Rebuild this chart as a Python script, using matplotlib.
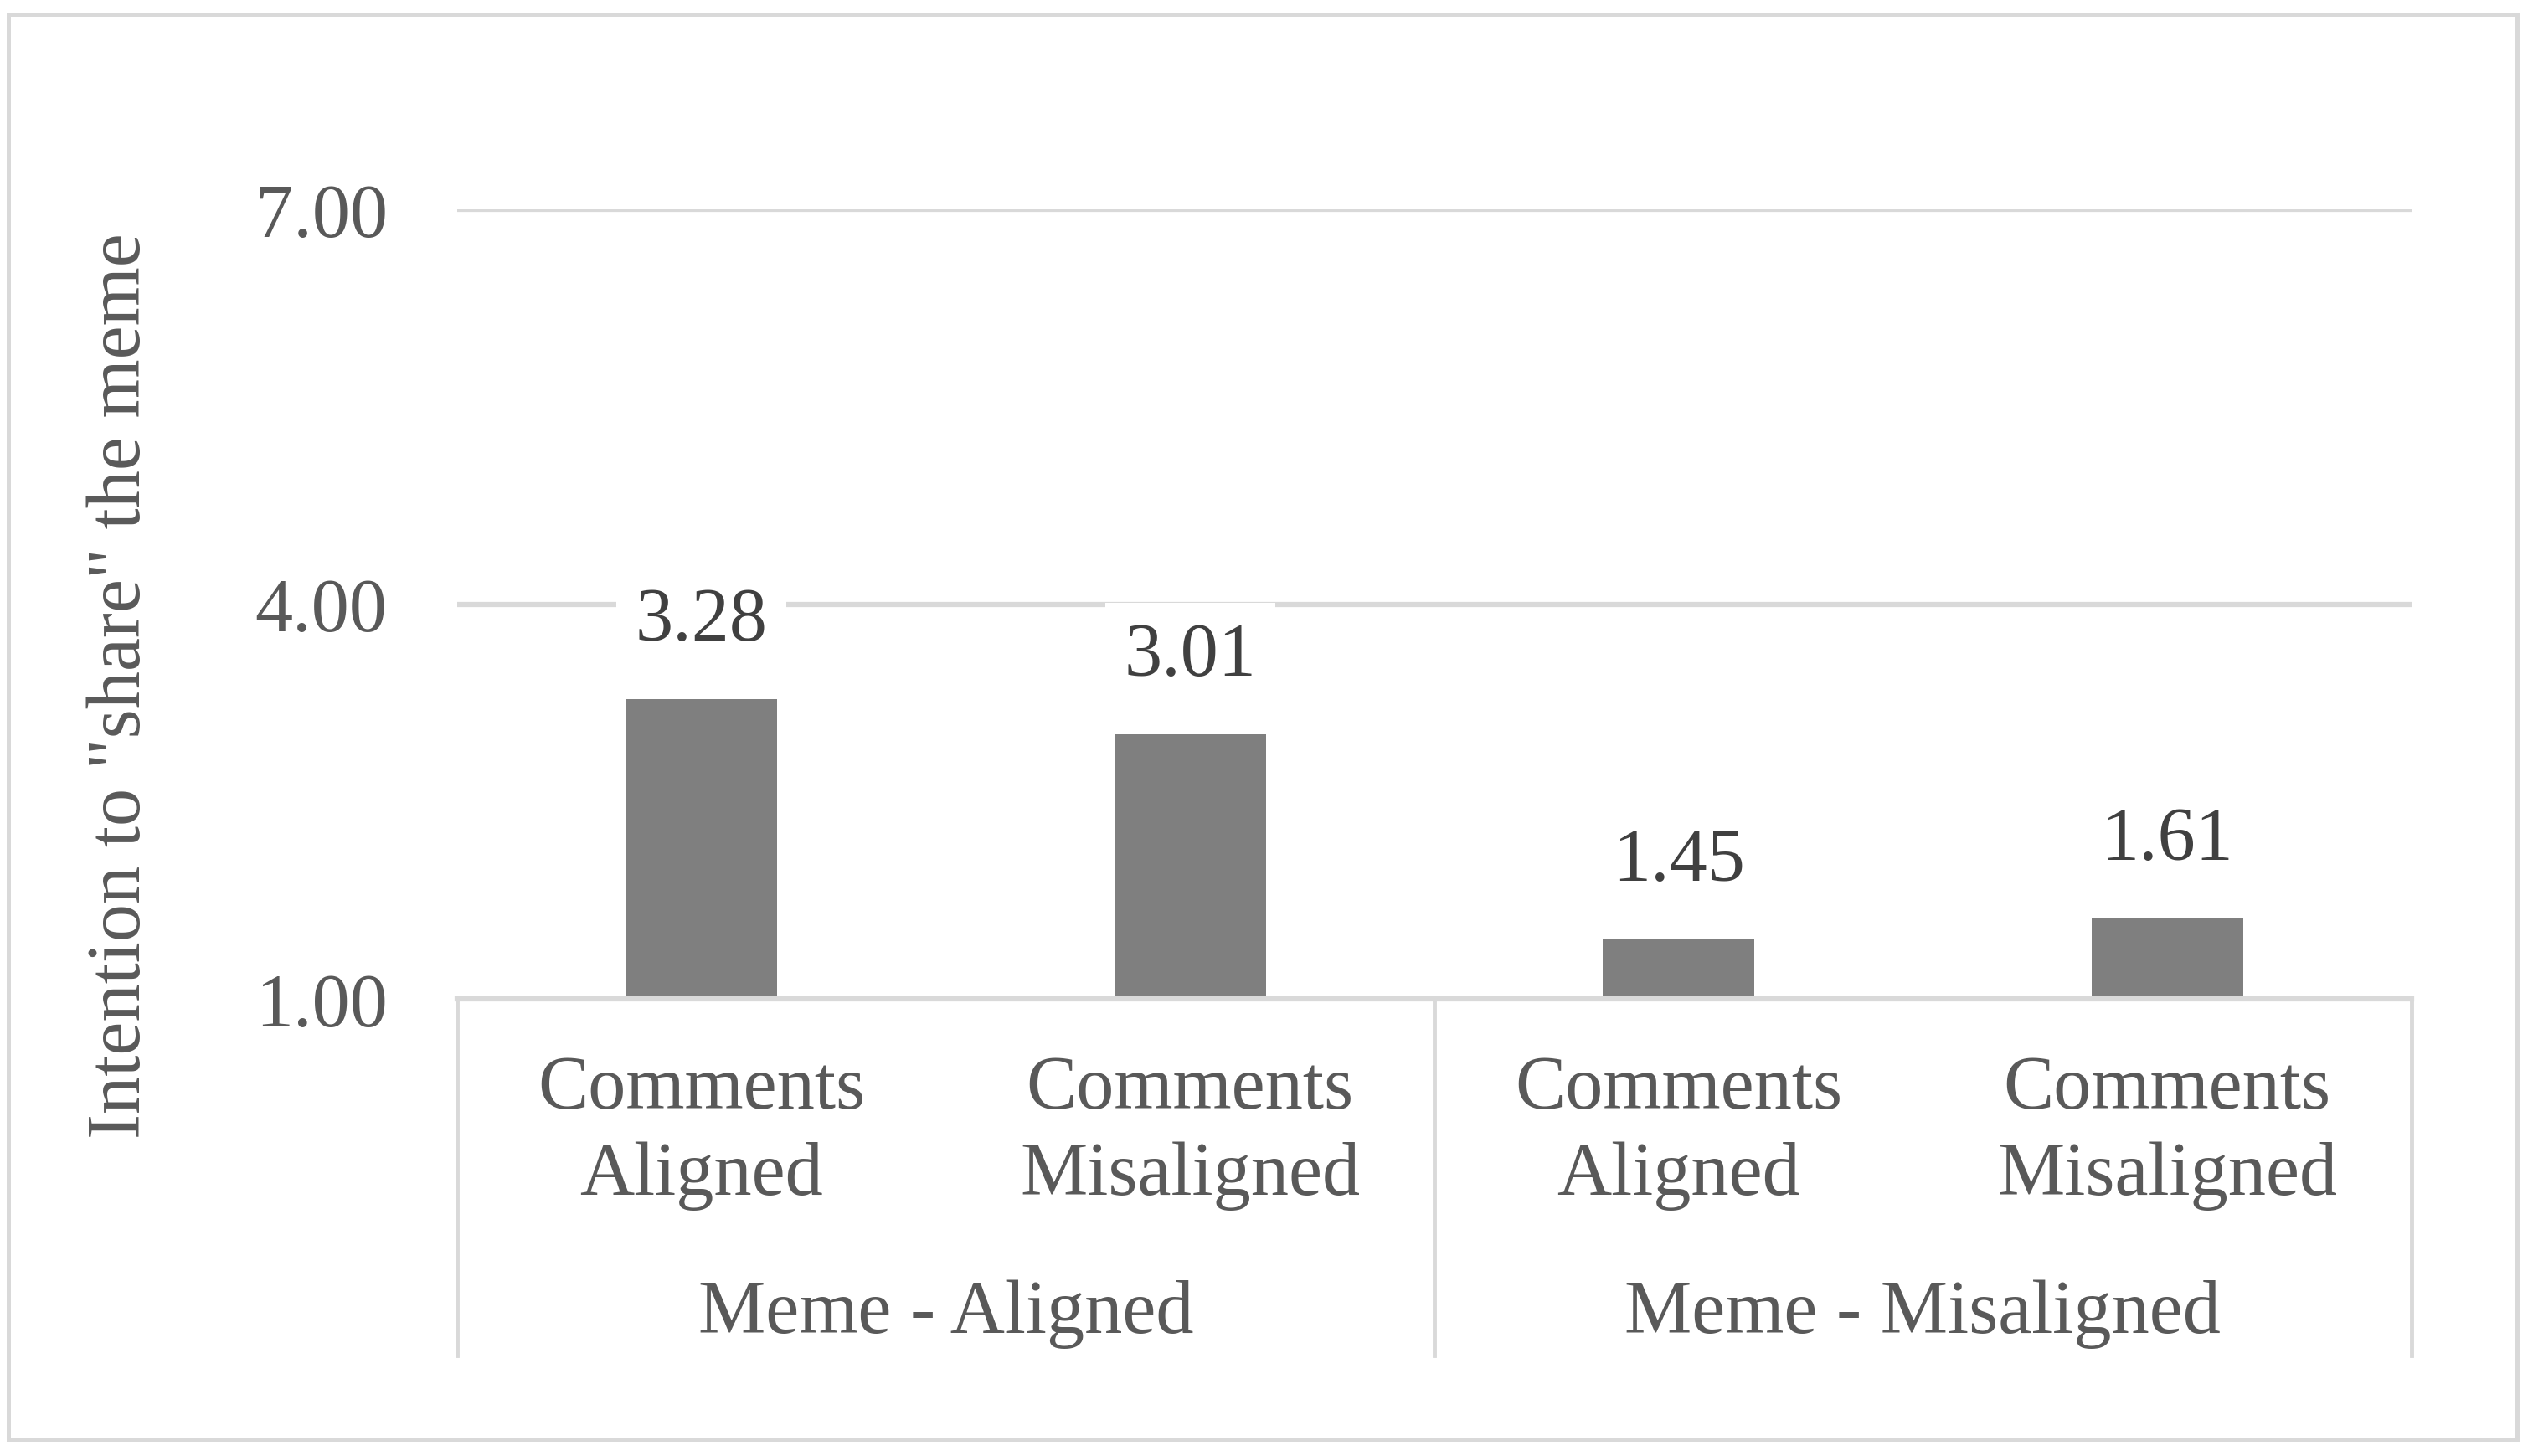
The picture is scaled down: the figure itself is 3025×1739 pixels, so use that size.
import matplotlib.pyplot as plt
from matplotlib.patches import Rectangle

# Data
comments = ['Comments\nAligned', 'Comments\nMisaligned',
            'Comments\nAligned', 'Comments\nMisaligned']
memes = ['Meme - Aligned', 'Meme - Misaligned']
values = [3.28, 3.01, 1.45, 1.61]
yticks = [1, 4, 7]
ytick_labels = ['1.00', '4.00', '7.00']

plt.rcParams.update({
    'font.family': ['Liberation Serif', 'DejaVu Serif'],
    'font.size': 65})

grid_col = '#d9d9d9'
text_col = '#595959'

fig = plt.figure(figsize=(30.25, 17.4), dpi=100)
ax = fig.add_axes([0.1805, 0.3138, 0.7715, 0.5419])

xs = list(range(len(values)))
bars = ax.bar(xs, values, width=0.31, color='#7f7f7f', bottom=0, zorder=2)
ax.set_ylim(1, 7)
ax.set_xlim(-0.5, len(values) - 0.5)

# Gridlines
for y in yticks[1:]:
    ax.axhline(y, color=grid_col, lw=4.5, zorder=1)

ax.set_yticks(yticks)
ax.set_yticklabels(ytick_labels, color=text_col)
ax.tick_params(axis='y', length=0, pad=60)
ax.set_xticks([])
for s in ax.spines.values():
    s.set_visible(False)

# Value labels
for x, v in zip(xs, values):
    ax.annotate(f'{v:.2f}', (x, v), xytext=(0, 67), textcoords='offset points',
                ha='center', va='center', color='#404040', zorder=3,
                bbox=dict(boxstyle='square,pad=0.25', fc='white', ec='none'))

# Category axis (two levels)
tr = ax.get_xaxis_transform()
ax.plot([-0.5, 3.5], [0, 0], color=grid_col, lw=4.5, transform=tr,
        clip_on=False, zorder=3)
for xb in [-0.5, 1.5, 3.5]:
    ax.plot([xb, xb], [0, -0.452], color=grid_col, lw=3.5, transform=tr,
            clip_on=False)
for x, lab in zip(xs, comments):
    ax.text(x, -0.1687, lab, transform=tr, ha='center', va='center',
            color=text_col, linespacing=1.33)
for i, lab in enumerate(memes):
    ax.text(2 * i + 0.5, -0.398, lab, transform=tr, ha='center', va='center',
            color=text_col)

fig.text(0.048, 0.529, 'Intention to "share" the meme', rotation=90,
         ha='center', va='center', color=text_col)

# Outer border
fig.patches.append(Rectangle((10 / 3025, 1 - 1720 / 1740),
                             2996 / 3025, 1702 / 1740,
                             transform=fig.transFigure, fill=False,
                             ec=grid_col, lw=3.6))

fig.savefig('out.png', dpi=100)
